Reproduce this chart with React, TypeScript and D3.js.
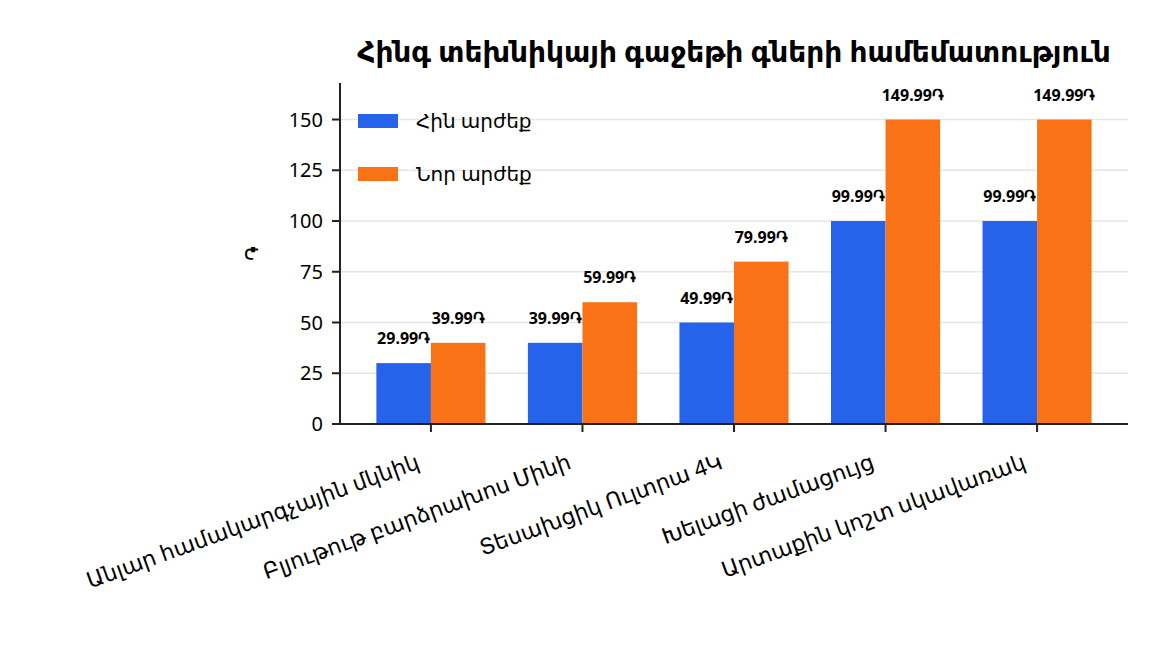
import React from "react";
import * as d3 from "d3";

// chart values
const products = [
  "Անլար համակարգչային մկնիկ",
  "Բլյութութ բարձրախոս Մինի",
  "Տեսախցիկ Ուլտրա 4Կ",
  "Խելացի ժամացույց",
  "Արտաքին կոշտ սկավառակ",
];
const seriesNames = ["Հին արժեք", "Նոր արժեք"];
const oldPrices = [29.99, 39.99, 49.99, 99.99, 99.99];
const newPrices = [39.99, 59.99, 79.99, 149.99, 149.99];
const yTicks = [0, 25, 50, 75, 100, 125, 150];
const currency = "֏";
const title = "Հինգ տեխնիկայի գաջեթի գների համեմատություն";

const colors = ["#2563eb", "#f97316"];

const W = 1152;
const H = 672;
const margin = { top: 83, right: 24, bottom: 248, left: 340 };
const FONT = "'Noto Sans', 'DejaVu Sans', sans-serif";

function App() {
  const innerW = W - margin.left - margin.right;
  const innerH = H - margin.top - margin.bottom;

  const x0 = d3
    .scaleBand()
    .domain(products)
    .range([0, innerW])
    .paddingInner(0.28)
    .paddingOuter(0.24);
  const x1 = d3
    .scaleBand()
    .domain(seriesNames)
    .range([0, x0.bandwidth()]);
  const maxV = d3.max(newPrices.concat(oldPrices)) as number;
  const y = d3.scaleLinear().domain([0, maxV * 1.12]).range([innerH, 0]);

  const series = [oldPrices, newPrices];

  return (
    <svg width={W} height={H} style={{ display: "block", position: "absolute", left: 0, top: 0 }}>
      <rect width={W} height={H} fill="#fff" />
      <text
        x={margin.left + innerW / 2}
        y={62}
        textAnchor="middle"
        fontFamily={FONT}
        fontSize={28}
        fontWeight="bold"
      >
        {title}
      </text>
      <g transform={`translate(${margin.left},${margin.top})`}>
        {yTicks.slice(1).map((t) => (
          <line key={t} x1={0} x2={innerW} y1={y(t)} y2={y(t)} stroke="#e6e6e6" strokeWidth={1.5} />
        ))}
        {series.map((vals, si) =>
          vals.map((v, i) => {
            const bx = (x0(products[i]) as number) + (x1(seriesNames[si]) as number);
            return (
              <g key={si + "-" + i}>
                <rect x={bx} y={y(v)} width={x1.bandwidth()} height={innerH - y(v)} fill={colors[si]} />
                <text
                  x={bx + x1.bandwidth() / 2}
                  y={y(v) - 19}
                  textAnchor="middle"
                  fontFamily={FONT}
                  fontSize={16}
                  fontWeight="bold"
                >
                  {v.toFixed(2) + currency}
                </text>
              </g>
            );
          })
        )}
        {/* y axis */}
        <line x1={0} x2={0} y1={0} y2={innerH} stroke="#222" strokeWidth={2} />
        {yTicks.map((t) => (
          <g key={t} transform={`translate(0,${y(t)})`}>
            <line x1={-8} x2={0} stroke="#222" strokeWidth={2} />
            <text x={-17} dy="0.35em" textAnchor="end" fontFamily={FONT} fontSize={20}>
              {t}
            </text>
          </g>
        ))}
        <text
          transform={`translate(-87,${innerH / 2}) rotate(-90)`}
          textAnchor="middle"
          dy="0.35em"
          fontFamily={FONT}
          fontSize={20}
        >
          {currency}
        </text>
        {/* x axis */}
        <line x1={0} x2={innerW} y1={innerH} y2={innerH} stroke="#222" strokeWidth={2} />
        {products.map((p) => {
          const cx = (x0(p) as number) + x0.bandwidth() / 2;
          return (
            <g key={p} transform={`translate(${cx},${innerH})`}>
              <line y1={0} y2={8} stroke="#222" strokeWidth={2} />
              <text
                transform="translate(-10,44) rotate(-20)"
                textAnchor="end"
                fontFamily={FONT}
                fontSize={22}
              >
                {p}
              </text>
            </g>
          );
        })}
        {/* legend */}
        {seriesNames.map((s, i) => (
          <g key={s} transform={`translate(18,${31 + i * 53})`}>
            <rect x={0} y={0} width={40} height={14} fill={colors[i]} />
            <text x={58} y={7} dy="0.35em" fontFamily={FONT} fontSize={20}>
              {s}
            </text>
          </g>
        ))}
      </g>
    </svg>
  );
}

export default App;
